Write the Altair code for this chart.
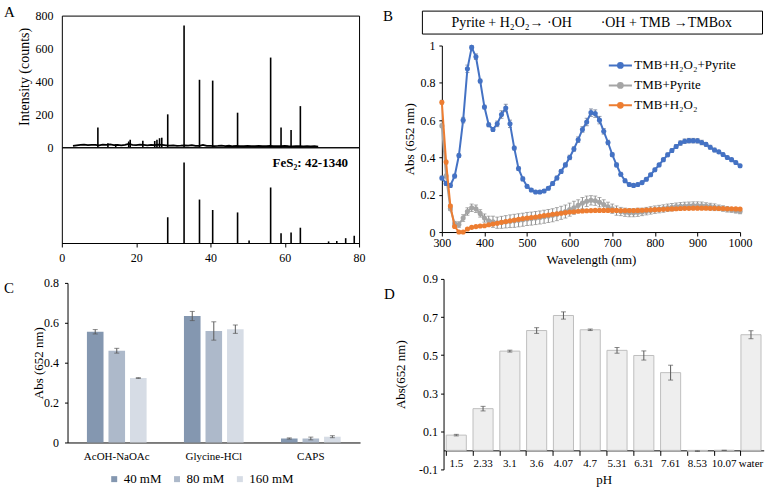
import altair as alt
import pandas as pd

FONT = "Liberation Serif"

# ---------------- Panel A : XRD ----------------
xrd_base_theta = [3, 4, 5, 6, 7, 8, 9, 10, 11, 12,
                  13, 14, 15, 16, 17, 18, 19, 20, 21, 22,
                  23, 24, 25, 26, 27, 28, 29, 30, 31, 32,
                  33, 34, 35, 36, 37, 38, 39, 40, 41, 42,
                  43, 44, 45, 46, 47, 48, 49, 50, 51, 52,
                  53, 54, 55, 56, 57, 58, 59, 60, 61, 62,
                  63, 64, 65, 66, 67, 68, 69]
xrd_base_counts = [8, 12, 14, 16, 13, 15, 14, 12, 16, 14,
                   18, 13, 15, 12, 14, 20, 15, 13, 16, 14,
                   12, 15, 13, 16, 14, 12, 10, 12, 9, 10,
                   12, 10, 13, 9, 8, 14, 9, 8, 7, 8,
                   10, 7, 9, 6, 8, 7, 6, 8, 7, 6,
                   8, 6, 7, 8, 6, 7, 6, 8, 6, 5,
                   7, 6, 5, 6, 5, 6, 4]
xrd_peak_theta = [9.7, 12.4, 14.5, 18.0, 18.4, 21.8, 25.0, 25.6, 26.3, 26.9,
                  28.5, 32.9, 37.05, 40.6, 47.3, 56.2, 59.0, 61.7, 64.2]
xrd_peak_counts = [120, 25, 18, 35, 45, 40, 38, 45, 55, 58,
                   200, 740, 410, 405, 210, 545, 120, 105, 250]
ref_theta = [28.5, 32.9, 37.05, 40.6, 47.3, 50.4, 56.2, 59.0, 61.7, 64.2, 71.8, 74.0, 76.4, 78.7]
ref_intensity = [32, 100, 54, 41, 38, 3, 69, 12, 13, 19, 2, 2.5, 6, 9]
A_xticks = [0, 20, 40, 60, 80]
A_yticks = [0, 200, 400, 600, 800]
ref_label = "FeS₂: 42-1340"

# ---------------- Panel B : spectra ----------------
wavelength = [300, 310, 320, 330, 340, 350, 360, 370, 380, 390,
              400, 410, 420, 430, 440, 450, 460, 470, 480, 490,
              500, 510, 520, 530, 540, 550, 560, 570, 580, 590,
              600, 610, 620, 630, 640, 650, 660, 670, 680, 690,
              700, 710, 720, 730, 740, 750, 760, 770, 780, 790,
              800, 810, 820, 830, 840, 850, 860, 870, 880, 890,
              900, 910, 920, 930, 940, 950, 960, 970, 980, 990,
              1000]
abs_pyrite_h2o2 = [0.29, 0.26, 0.25, 0.30, 0.41, 0.60, 0.875, 0.99, 0.94, 0.81,
                   0.67, 0.575, 0.55, 0.58, 0.63, 0.665, 0.58, 0.45, 0.34, 0.285,
                   0.245, 0.225, 0.215, 0.215, 0.22, 0.235, 0.26, 0.29, 0.325, 0.36,
                   0.40, 0.445, 0.495, 0.55, 0.59, 0.64, 0.635, 0.60, 0.54, 0.48,
                   0.415, 0.36, 0.31, 0.275, 0.255, 0.25, 0.255, 0.265, 0.283, 0.307,
                   0.334, 0.36, 0.388, 0.414, 0.437, 0.459, 0.477, 0.487, 0.49, 0.49,
                   0.489, 0.48, 0.47, 0.455, 0.44, 0.43, 0.416, 0.40, 0.388, 0.373,
                   0.355]
err_pyrite_h2o2 = [0.01, 0.01, 0.01, 0.01, 0.01, 0.015, 0.02, 0.01, 0.015, 0.01,
                   0.01, 0.01, 0.01, 0.015, 0.02, 0.02, 0.02, 0.01, 0.01, 0.01,
                   0.008, 0.008, 0.008, 0.008, 0.008, 0.008, 0.01, 0.01, 0.01, 0.01,
                   0.012, 0.012, 0.015, 0.015, 0.02, 0.02, 0.02, 0.02, 0.015, 0.012,
                   0.01, 0.01, 0.01, 0.01, 0.008, 0.008, 0.008, 0.008, 0.008, 0.008,
                   0.008, 0.008, 0.008, 0.01, 0.01, 0.01, 0.012, 0.012, 0.012, 0.012,
                   0.012, 0.012, 0.01, 0.01, 0.01, 0.008, 0.008, 0.008, 0.008, 0.008,
                   0.008]
abs_pyrite = [0.57, 0.30, 0.125, 0.045, 0.04, 0.075, 0.11, 0.13, 0.125, 0.10,
              0.075, 0.06, 0.055, 0.05, 0.052, 0.055, 0.058, 0.06, 0.063, 0.066,
              0.07, 0.072, 0.075, 0.078, 0.082, 0.086, 0.09, 0.096, 0.103, 0.11,
              0.12, 0.13, 0.143, 0.155, 0.165, 0.17, 0.168, 0.16, 0.148, 0.135,
              0.125, 0.115, 0.11, 0.106, 0.104, 0.104, 0.106, 0.108, 0.112, 0.116,
              0.12, 0.123, 0.126, 0.13, 0.133, 0.136, 0.138, 0.14, 0.141, 0.142,
              0.142, 0.141, 0.139, 0.136, 0.133, 0.13, 0.126, 0.122, 0.118, 0.114,
              0.11]
err_pyrite = [0.01, 0.01, 0.01, 0.012, 0.015, 0.018, 0.02, 0.02, 0.02, 0.02,
              0.022, 0.025, 0.03, 0.03, 0.032, 0.033, 0.034, 0.035, 0.035, 0.035,
              0.035, 0.035, 0.035, 0.035, 0.035, 0.035, 0.035, 0.035, 0.035, 0.035,
              0.035, 0.035, 0.03, 0.03, 0.028, 0.025, 0.025, 0.025, 0.025, 0.025,
              0.025, 0.025, 0.022, 0.022, 0.022, 0.022, 0.022, 0.02, 0.02, 0.02,
              0.02, 0.02, 0.02, 0.02, 0.02, 0.02, 0.02, 0.02, 0.02, 0.02,
              0.02, 0.02, 0.018, 0.018, 0.018, 0.015, 0.015, 0.015, 0.012, 0.012,
              0.012]
abs_h2o2 = [0.696, 0.375, 0.14, 0.03, 0.0, 0.0, 0.016, 0.025, 0.029, 0.032,
            0.034, 0.039, 0.043, 0.047, 0.052, 0.056, 0.06, 0.064, 0.068, 0.072,
            0.075, 0.078, 0.081, 0.084, 0.088, 0.091, 0.095, 0.098, 0.101, 0.104,
            0.107, 0.109, 0.111, 0.113, 0.114, 0.115, 0.116, 0.116, 0.116, 0.116,
            0.116, 0.116, 0.115, 0.115, 0.115, 0.115, 0.116, 0.117, 0.118, 0.119,
            0.12, 0.121, 0.122, 0.123, 0.124, 0.125, 0.126, 0.127, 0.127, 0.128,
            0.128, 0.128, 0.128, 0.127, 0.127, 0.126, 0.126, 0.125, 0.125, 0.124,
            0.123]
err_h2o2 = [0.01, 0.01, 0.008, 0.006, 0.004, 0.004, 0.004, 0.004, 0.004, 0.004,
            0.005, 0.005, 0.005, 0.005, 0.005, 0.005, 0.005, 0.005, 0.005, 0.005,
            0.005, 0.005, 0.005, 0.005, 0.005, 0.005, 0.005, 0.005, 0.005, 0.005,
            0.005, 0.005, 0.005, 0.005, 0.005, 0.005, 0.005, 0.005, 0.005, 0.005,
            0.005, 0.005, 0.005, 0.005, 0.005, 0.005, 0.005, 0.005, 0.005, 0.005,
            0.005, 0.005, 0.005, 0.005, 0.005, 0.005, 0.005, 0.005, 0.005, 0.005,
            0.005, 0.005, 0.005, 0.005, 0.005, 0.005, 0.005, 0.005, 0.005, 0.005,
            0.005]
series_names = ["TMB+H₂O₂+Pyrite", "TMB+Pyrite", "TMB+H₂O₂"]
series_colors = ["#4472C4", "#A5A5A5", "#ED7D31"]
error_colors = ["#5F6F8F", "#8C8C8C", "#8C6A55"]
draw_order = [1, 0, 2]
B_xticks = [300, 400, 500, 600, 700, 800, 900, 1000]
B_yticks = [0, 0.2, 0.4, 0.6, 0.8, 1]
header_parts = ["Pyrite + H₂O₂→ ·OH", "·OH + TMB →TMBox"]

# ---------------- Panel C : buffers ----------------
buffers = ["AcOH-NaOAc", "Glycine-HCl", "CAPS"]
concs = ["40 mM", "80 mM", "160 mM"]
conc_colors = ["#8497B0", "#ADB9CA", "#D6DCE5"]
c_mean_40 = [0.555, 0.634, 0.020]
c_mean_80 = [0.460, 0.559, 0.020]
c_mean_160 = [0.323, 0.568, 0.029]
c_err_40 = [0.011, 0.023, 0.003]
c_err_80 = [0.012, 0.046, 0.007]
c_err_160 = [0.002, 0.021, 0.005]
C_yticks = [0, 0.2, 0.4, 0.6, 0.8]

# ---------------- Panel D : pH ----------------
ph_labels = ["1.5", "2.33", "3.1", "3.6", "4.07", "4.7", "5.31", "6.31", "7.61", "8.53", "10.07", "water"]
d_mean = [0.08, 0.219, 0.521, 0.629, 0.708, 0.633, 0.525, 0.498, 0.408, -0.004, 0.0, 0.607]
d_err = [0.004, 0.012, 0.005, 0.015, 0.019, 0.004, 0.015, 0.024, 0.039, 0.002, 0.0, 0.021]
D_yticks = [-0.1, 0.1, 0.3, 0.5, 0.7, 0.9]

panel_letters = ["A", "B", "C", "D"]

BOX = alt.ViewBackground(stroke="black", strokeWidth=1)


def letter(ch, x, y):
    return alt.Chart(pd.DataFrame({"t": [ch]})).mark_text(
        align="left", baseline="top", fontSize=15, font=FONT, color="black"
    ).encode(text="t:N", x=alt.value(x), y=alt.value(y))


def spacer(w, h):
    return alt.Chart(pd.DataFrame({"t": [" "]})).mark_text(opacity=0).encode(
        text="t:N").properties(width=w, height=h)


# ================= Panel A =================
base_df = pd.DataFrame({"t": xrd_base_theta, "c": xrd_base_counts})
peak_df = pd.DataFrame({"t": xrd_peak_theta, "c": xrd_peak_counts})
ref_df = pd.DataFrame({"t": ref_theta, "c": ref_intensity})

xA_top = alt.X("t:Q", scale=alt.Scale(domain=[0, 80], nice=False), axis=None)
yA_axis = alt.Axis(values=A_yticks, ticks=False, domain=False, grid=False, labelPadding=9,
                   labelFlush=False,
                   title="Intensity (counts)", titleFontSize=14, titleX=-37, titleY=61,
                   titleBaseline="middle")
yA = alt.Y("c:Q", scale=alt.Scale(domain=[0, 800], nice=False), axis=yA_axis)

a_line = alt.Chart(base_df).mark_line(color="black", strokeWidth=1.8).encode(x=xA_top, y=yA)
a_peaks = alt.Chart(peak_df).mark_rule(color="black", strokeWidth=1.6).encode(
    x=xA_top, y=yA, y2=alt.datum(0))
A_top = alt.layer(a_line, a_peaks, letter(panel_letters[0], -58, -11)).properties(
    width=298, height=132, view=BOX)

xA_bot = alt.X("t:Q", scale=alt.Scale(domain=[0, 80], nice=False),
               axis=alt.Axis(values=A_xticks, tickSize=4, labelPadding=6, title=None, grid=False,
                             labelFlush=False))
a_ref = alt.Chart(ref_df).mark_rule(color="black", strokeWidth=1.6).encode(
    x=xA_bot,
    y=alt.Y("c:Q", scale=alt.Scale(domain=[0, 119], nice=False), axis=None),
    y2=alt.datum(0))
a_ref_lbl = alt.Chart(pd.DataFrame({"t": [ref_label]})).mark_text(
    align="right", baseline="middle", fontSize=13, fontWeight="bold", font=FONT, color="black"
).encode(text="t:N", x=alt.value(287), y=alt.value(16))
# invisible anchor fixing the right edge of the left column
a_anchor = alt.Chart(pd.DataFrame({"t": [" "]})).mark_rule(opacity=0, strokeWidth=0).encode(
    x=alt.value(315), y=alt.value(0), y2=alt.value(10))
A_bot = alt.layer(a_ref, a_ref_lbl, a_anchor).properties(width=298, height=96, view=BOX)

# ================= Panel B =================
all_vals = [abs_pyrite_h2o2, abs_pyrite, abs_h2o2]
all_errs = [err_pyrite_h2o2, err_pyrite, err_h2o2]
rows = []
for name, vals, errs in zip(series_names, all_vals, all_errs):
    for w, v, e in zip(wavelength, vals, errs):
        rows.append({"wl": w, "v": v, "lo": v - e, "hi": v + e, "series": name})
b_df = pd.DataFrame(rows)

xB = alt.X("wl:Q", scale=alt.Scale(domain=[300, 1000], range=[20, 319], nice=False, zero=False),
           axis=alt.Axis(values=B_xticks, format="d", tickSize=4, labelPadding=2, grid=False,
                         labelFlush=False,
                         title="Wavelength (nm)", titleY=27.5, titleBaseline="middle"))
yB_scale = alt.Scale(domain=[0, 1], nice=False)
yB_axis = alt.Axis(values=B_yticks, format="~g", offset=-20, tickSize=3, labelPadding=4, grid=False,
                   labelFlush=False,
                   title="Abs (652 nm)", titleX=-32, titleBaseline="middle")

legend_path = "M-1.45,0L1.45,0M-0.3,0A0.3,0.3,0,1,0,0.3,0A0.3,0.3,0,1,0,-0.3,0"
legB = alt.Legend(orient="none", legendX=190, legendY=46, title=None, symbolType=legend_path,
                  symbolSize=256, symbolStrokeWidth=2, labelFontSize=13, labelOffset=5,
                  rowPadding=4, padding=0, labelFont=FONT, labelColor="black")
colB = alt.Color("series:N", scale=alt.Scale(domain=series_names, range=series_colors), legend=legB)

b_layers = []
for i in draw_order:
    src = alt.Chart(b_df).transform_filter(alt.datum.series == series_names[i])
    b_layers.append(src.mark_rule(strokeWidth=1, color=error_colors[i]).encode(
        x=xB, y=alt.Y("lo:Q", scale=yB_scale, axis=yB_axis), y2="hi:Q"))
    b_layers.append(src.mark_tick(orient="horizontal", size=4, thickness=1, color=error_colors[i]).encode(
        x=xB, y=alt.Y("lo:Q", scale=yB_scale, axis=yB_axis)))
    b_layers.append(src.mark_tick(orient="horizontal", size=4, thickness=1, color=error_colors[i]).encode(
        x=xB, y=alt.Y("hi:Q", scale=yB_scale, axis=yB_axis)))
for i in draw_order:
    src = alt.Chart(b_df).transform_filter(alt.datum.series == series_names[i])
    b_layers.append(src.mark_line(strokeWidth=2).encode(
        x=xB, y=alt.Y("v:Q", scale=yB_scale, axis=yB_axis), color=colB))
    b_layers.append(src.mark_circle(size=26, opacity=1).encode(
        x=xB, y=alt.Y("v:Q", scale=yB_scale, axis=yB_axis), color=colB))
B = alt.layer(*b_layers).properties(width=319, height=187)

hdr_a = alt.Chart(pd.DataFrame({"t": [header_parts[0]]})).mark_text(
    fontSize=14, font=FONT, color="black", baseline="middle", align="center"
).encode(text="t:N", x=alt.value(90), y=alt.value(12))
hdr_b = alt.Chart(pd.DataFrame({"t": [header_parts[1]]})).mark_text(
    fontSize=14, font=FONT, color="black", baseline="middle", align="center"
).encode(text="t:N", x=alt.value(245), y=alt.value(12))
header = alt.layer(hdr_a, hdr_b, letter(panel_letters[1], -39, -2)).properties(
    width=341, height=23, view=BOX)

# ================= Panel C =================
c_rows = []
for conc, means, errs in zip(concs, [c_mean_40, c_mean_80, c_mean_160], [c_err_40, c_err_80, c_err_160]):
    for b, m, e in zip(buffers, means, errs):
        c_rows.append({"buffer": b, "conc": conc, "m": m, "lo": m - e, "hi": m + e})
c_df = pd.DataFrame(c_rows)

xC = alt.X("buffer:N", sort=buffers,
           scale=alt.Scale(range=[5.7, 299], paddingInner=0.385, paddingOuter=0.2),
           axis=alt.Axis(title=None, labelAngle=0, ticks=False, labelPadding=8, labelFontSize=11,
                         grid=False))
xoC = alt.XOffset("conc:N", sort=concs, scale=alt.Scale(domain=concs, paddingInner=0.23, paddingOuter=0))
yC_scale = alt.Scale(domain=[0, 0.8], nice=False)
yC_axis = alt.Axis(values=C_yticks, format="~g", offset=-5.7, tickSize=3, labelPadding=6, grid=False,
                   labelFlush=False,
                   title="Abs (652 nm)", titleX=-29, titleBaseline="middle")
legC = alt.Legend(orient="none", legendX=46, legendY=463, direction="horizontal", title=None,
                  symbolType="square", symbolSize=36, symbolStrokeWidth=0, labelFontSize=13,
                  labelOffset=3, columnPadding=9, padding=0, labelFont=FONT, labelColor="black")
c_bars = alt.Chart(c_df).mark_bar().encode(
    x=xC, xOffset=xoC, y=alt.Y("m:Q", scale=yC_scale, axis=yC_axis),
    color=alt.Color("conc:N", sort=concs, scale=alt.Scale(domain=concs, range=conc_colors), legend=legC))
c_rule = alt.Chart(c_df).mark_rule(color="#595959", strokeWidth=1).encode(
    x=xC, xOffset=xoC, y=alt.Y("lo:Q", scale=yC_scale, axis=yC_axis), y2="hi:Q")
c_tlo = alt.Chart(c_df).mark_tick(orient="horizontal", size=5, thickness=1, color="#595959").encode(
    x=xC, xOffset=xoC, y=alt.Y("lo:Q", scale=yC_scale, axis=yC_axis))
c_thi = alt.Chart(c_df).mark_tick(orient="horizontal", size=5, thickness=1, color="#595959").encode(
    x=xC, xOffset=xoC, y=alt.Y("hi:Q", scale=yC_scale, axis=yC_axis))
C = alt.layer(c_bars, c_rule, c_tlo, c_thi, letter(panel_letters[2], -58, -1.5)).properties(
    width=299, height=160)

# ================= Panel D =================
d_df = pd.DataFrame({"ph": ph_labels, "m": d_mean,
                     "lo": [m - e for m, e in zip(d_mean, d_err)],
                     "hi": [m + e for m, e in zip(d_mean, d_err)]})
xD = alt.X("ph:N", sort=ph_labels,
           scale=alt.Scale(range=[21.7, 342.7], paddingInner=0.25, paddingOuter=0.1),
           axis=alt.Axis(title="pH", labelAngle=0, offset=-19.1, tickSize=5, bandPosition=0,
                         labelPadding=2, labelFontSize=11, labelOverlap=False, grid=False,
                         titleY=29, titleBaseline="middle"))
yD_scale = alt.Scale(domain=[-0.1, 0.9], nice=False)
yD_axis = alt.Axis(values=D_yticks, offset=-21.7, tickSize=3, labelPadding=3, grid=False,
                   labelFlush=False,
                   labelExpr="replace(datum.label, '−', '-')",
                   title="Abs(652 nm)", titleX=-42.7, titleBaseline="middle")
d_bars = alt.Chart(d_df).mark_bar(fill="#EEEEEE", stroke="#BFBFBF", strokeWidth=1).encode(
    x=xD, y=alt.Y("m:Q", scale=yD_scale, axis=yD_axis))
d_rule = alt.Chart(d_df).mark_rule(color="#595959", strokeWidth=1).encode(
    x=xD, y=alt.Y("lo:Q", scale=yD_scale, axis=yD_axis), y2="hi:Q")
d_tlo = alt.Chart(d_df).mark_tick(orient="horizontal", size=5, thickness=1, color="#595959").encode(
    x=xD, y=alt.Y("lo:Q", scale=yD_scale, axis=yD_axis))
d_thi = alt.Chart(d_df).mark_tick(orient="horizontal", size=5, thickness=1, color="#595959").encode(
    x=xD, y=alt.Y("hi:Q", scale=yD_scale, axis=yD_axis))
D = alt.layer(d_bars, d_rule, d_tlo, d_thi, letter(panel_letters[3], -38, 8)).properties(
    width=343, height=191)

# ================= Layout =================
left_col = alt.vconcat(spacer(298, 5), A_top, A_bot, spacer(298, 40), C,
                       spacing=0, bounds="flush")
right_col = alt.vconcat(header, spacer(341, 12), B, spacer(341, 47), D,
                        spacing=0, bounds="flush")

chart = alt.hconcat(left_col, right_col, spacing=5).resolve_scale(
    color="independent"
).properties(
    padding={"left": 3, "top": 3, "right": 2, "bottom": 2}
).configure_view(stroke="transparent").configure_axis(
    labelFont=FONT, titleFont=FONT, labelColor="black", titleColor="black",
    domainColor="black", tickColor="black", labelFontSize=12, titleFontSize=13,
    titleFontWeight="normal", grid=False, labelFlush=False
).configure_legend(labelFont=FONT, labelColor="black").configure_text(font=FONT)

chart.save("out.html", embed_options={"renderer": "svg", "actions": False})
